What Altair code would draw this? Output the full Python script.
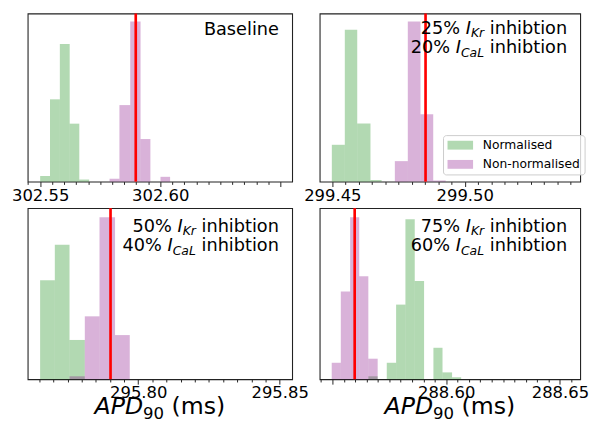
import altair as alt
import pandas as pd
import numpy as np

# ---------------- data ----------------
SERIES = ["Normalised", "Non-normalised"]
COLORS = ["green", "purple"]

# Panel 1: Baseline
p1_green_edges = [302.5500, 302.5541, 302.5582, 302.5623, 302.5663, 302.5704]
p1_green_heights = [3.5, 51.4, 85.9, 36.2, 1.3]
p1_pink_edges = [302.5789, 302.5830, 302.5875, 302.5918, 302.5959, 302.6001, 302.6041]
p1_pink_heights = [1.8, 47.8, 100.0, 26.6, 0.0, 3.0]
p1_marker = 302.5898
p1_domain = [302.5448, 302.6549]
p1_ticklabels = [302.55, 302.60]

# Panel 2: 25% IKr / 20% ICaL
p2_green_edges = [299.4498, 299.4547, 299.4594, 299.4644, 299.4686]
p2_green_heights = [23.0, 94.9, 36.3, 1.0]
p2_pink_edges = [299.4736, 299.4785, 299.4833, 299.4881, 299.4928]
p2_pink_heights = [12.8, 100.0, 42.0, 0.7]
p2_marker = 299.4852
p2_domain = [299.4452, 299.5436]
p2_ticklabels = [299.45, 299.50]

# Panel 3: 50% IKr / 40% ICaL
p3_green_edges = [295.7653, 295.7705, 295.7757, 295.7811]
p3_green_heights = [60.8, 82.6, 24.1]
p3_pink_edges = [295.7757, 295.7811, 295.7863, 295.7918, 295.7970]
p3_pink_heights = [1.8, 38.6, 99.4, 27.1]
p3_marker = 295.7902
p3_domain = [295.7609, 295.8544]
p3_ticklabels = [295.80, 295.85]

# Panel 4: 75% IKr / 60% ICaL
p4_green_edges = [288.5658, 288.5699, 288.5739, 288.5780, 288.5821, 288.5862,
                  288.5903, 288.5944, 288.5984, 288.6026, 288.6066]
p4_green_heights = [1.8, 0.0, 10.1, 45.8, 98.2, 60.3, 0.0, 19.3, 4.2, 1.2]
p4_pink_edges = [288.5497, 288.5537, 288.5578, 288.5618, 288.5658, 288.5699]
p4_pink_heights = [10.1, 53.8, 99.4, 63.2, 12.6]
p4_marker = 288.5598
p4_domain = [288.5444, 288.6589]
p4_ticklabels = [288.60, 288.65]

ANNOT = [None, ("25%", "Kr", "20%", "CaL"), ("50%", "Kr", "40%", "CaL"), ("75%", "Kr", "60%", "CaL")]
BASELINE_LABEL = "Baseline"
WORD = "inhibtion"

# ---------------- helpers ----------------
FONT = "DejaVu Sans"
ADV = {' ': 0.318, '%': 0.950, '.': 0.318, '-': 0.361, '(': 0.390, ')': 0.390,
       '0': 0.636, '1': 0.636, '2': 0.636, '3': 0.636, '4': 0.636, '5': 0.636,
       '6': 0.636, '7': 0.636, '8': 0.636, '9': 0.636,
       'A': 0.684, 'B': 0.686, 'C': 0.698, 'D': 0.770, 'I': 0.295, 'K': 0.656,
       'L': 0.557, 'P': 0.603, 'a': 0.613, 'b': 0.635, 'd': 0.635, 'e': 0.615,
       'h': 0.634, 'i': 0.278, 'l': 0.278, 'm': 0.974, 'n': 0.634, 'o': 0.612,
       'r': 0.411, 's': 0.521, 't': 0.392}


def tw(s, size):
    return sum(ADV.get(c, 0.6) for c in s) * size


def txt(text, x, y, size, style="normal", align="left"):
    return alt.Chart(pd.DataFrame({"t": [text]})).mark_text(
        align=align, baseline="alphabetic", font=FONT, fontSize=size,
        fontStyle=style, color="black"
    ).encode(x=alt.value(x), y=alt.value(y), text="t:N")


def rich_line(prefix, sub, xr, yb, F=18.0):
    S = 0.7 * F
    out = [txt(WORD, xr, yb, F, align="right")]
    x = xr - tw(WORD, F) - tw(" ", F)
    out.append(txt(sub, x, yb + 3.5, S, "italic", align="right"))
    x -= tw(sub, S)
    out.append(txt("I", x, yb, F, "italic", align="right"))
    x -= tw("I", F) + tw(" ", F)
    out.append(txt(prefix, x, yb, F, align="right"))
    return out


def xtitle(w, h, F=24.0):
    S = 0.7 * F
    total = tw("APD", F) + tw("90", S) + tw(" ", F) + tw("(ms)", F)
    x = w / 2 - total / 2
    yb = h + 35
    out = [txt("APD", x, yb, F, "italic")]
    x += tw("APD", F)
    out.append(txt("90", x, yb + 5.5, S))
    x += tw("90", S) + tw(" ", F)
    out.append(txt("(ms)", x, yb, F))
    return out


def panel(ge, gh, pe, ph, marker, domain, labels, w, h, annot, legend, title, ytext):
    rows = []
    for s, e, v in zip(ge[:-1], ge[1:], gh):
        if v > 0:
            rows.append({"series": SERIES[0], "x0": s, "x1": e, "h": v, "base": 0.0})
    for s, e, v in zip(pe[:-1], pe[1:], ph):
        if v > 0:
            rows.append({"series": SERIES[1], "x0": s, "x1": e, "h": v, "base": 0.0})
    df = pd.DataFrame(rows)

    start = np.ceil(domain[0] / 0.005) * 0.005
    ticks = [round(float(t), 3) for t in np.arange(start, domain[1], 0.005)]
    test = " || ".join(f"abs(datum.value - {v}) < 1e-6" for v in labels)
    axis = alt.Axis(
        values=ticks, title=None, grid=False, domain=False,
        labelExpr=f"({test}) ? format(datum.value, '.2f') : ''",
        tickSize={"condition": {"test": "abs(datum.value*20 - round(datum.value*20)) < 0.001",
                                "value": 5}, "value": 2.8},
        labelOverlap=False, labelFlush=False, labelFont=FONT, labelFontSize=16.7,
        labelColor="black", tickColor="#222", tickWidth=1, labelPadding=1,
    )
    xscale = alt.Scale(domain=domain, nice=False, zero=False)
    if legend:
        leg = alt.Legend(
            title=None, orient="none", legendX=125.5, legendY=h - 47.3,
            symbolType="M-0.91,-0.72H3.25V0.72H-0.91Z", symbolSize=156.25,
            symbolOpacity=0.3, symbolStrokeWidth=0, labelFont=FONT, labelFontSize=12.5,
            labelColor="black", labelOffset=23.75, rowPadding=6.5, padding=3.75,
            strokeColor="#cccccc", fillColor="rgba(255,255,255,0.8)", cornerRadius=3,
        )
    else:
        leg = None
    bars = alt.Chart(df).mark_bar(opacity=0.3).encode(
        x=alt.X("x0:Q", scale=xscale, axis=axis),
        x2="x1:Q",
        y=alt.Y("h:Q", scale=alt.Scale(domain=[0, 105], nice=False), axis=None, stack=None),
        y2="base:Q",
        color=alt.Color("series:N", scale=alt.Scale(domain=SERIES, range=COLORS), legend=leg),
    )
    rule = alt.Chart(pd.DataFrame({"m": [marker]})).mark_rule(
        color="red", strokeWidth=2.7
    ).encode(x=alt.X("m:Q", scale=xscale, axis=axis))
    layers = [bars, rule]
    xr = 0.95 * w
    if annot is None:
        layers.append(txt(BASELINE_LABEL, xr, ytext + 1, 18, align="right"))
    else:
        layers += rich_line(annot[0], annot[1], xr, ytext)
        layers += rich_line(annot[2], annot[3], xr, ytext + 20)
    if title:
        layers += xtitle(w, h)
    return alt.layer(*layers).properties(width=w, height=h)


H_TOP, H_BOT = 171, 174
c1 = panel(p1_green_edges, p1_green_heights, p1_pink_edges, p1_pink_heights, p1_marker,
           p1_domain, p1_ticklabels, 269, H_TOP, ANNOT[0], False, False, 20.5)
c2 = panel(p2_green_edges, p2_green_heights, p2_pink_edges, p2_pink_heights, p2_marker,
           p2_domain, p2_ticklabels, 265, H_TOP, ANNOT[1], True, False, 20.5)
c3 = panel(p3_green_edges, p3_green_heights, p3_pink_edges, p3_pink_heights, p3_marker,
           p3_domain, p3_ticklabels, 269, H_BOT, ANNOT[2], False, True, 24)
c4 = panel(p4_green_edges, p4_green_heights, p4_pink_edges, p4_pink_heights, p4_marker,
           p4_domain, p4_ticklabels, 265, H_BOT, ANNOT[3], False, True, 24)

chart = alt.concat(
    c1, c2, c3, c4, columns=2, spacing={"row": 27, "column": 28}, bounds="flush"
).resolve_scale(
    color="independent", x="independent", y="independent"
).resolve_legend(color="independent").properties(
    padding={"left": 2, "top": 0, "right": 0, "bottom": 0}
).configure(
    font=FONT, background="white",
    view=alt.ViewConfig(stroke="#222", strokeWidth=1.1),
)

chart.save("out.html", embed_options={"renderer": "svg", "actions": False})
